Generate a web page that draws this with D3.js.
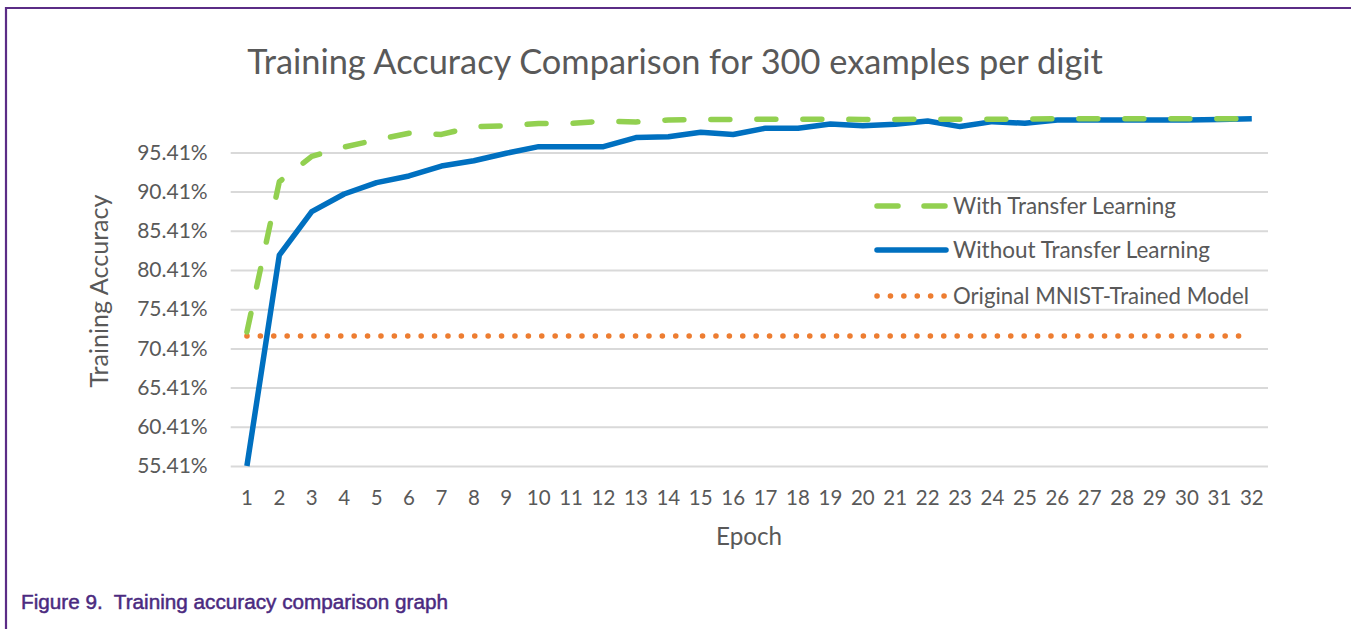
<!DOCTYPE html>
<html><head><meta charset="utf-8">
<script src="https://cdn.jsdelivr.net/npm/d3@7"></script>
<style>
html,body{margin:0;padding:0;background:#fff;}
svg{display:block;}
</style></head>
<body>
<svg id="chart" width="1351" height="629"></svg>
<script>
// ---- data ----
const epochs = d3.range(1, 33);
const withTransfer = [72.5, 91.67, 94.9, 96.1, 97.0, 97.85, 97.7, 98.7, 98.8, 99.1, 99.1, 99.4, 99.3, 99.55, 99.6, 99.6,
  99.65, 99.65, 99.65, 99.6, 99.6, 99.65, 99.65, 99.65, 99.65, 99.7, 99.7, 99.7, 99.7, 99.7, 99.7, 99.7];
const withoutTransfer = [55.41, 82.3, 87.85, 90.1, 91.55, 92.4, 93.67, 94.35, 95.3, 96.14, 96.14, 96.14, 97.3, 97.4, 97.97, 97.7,
  98.5, 98.5, 99.03, 98.8, 99.0, 99.42, 98.7, 99.33, 99.12, 99.55, 99.55, 99.55, 99.55, 99.55, 99.62, 99.7];
const originalModel = epochs.map(() => 72.0);
const yTicks = [55.41, 60.41, 65.41, 70.41, 75.41, 80.41, 85.41, 90.41, 95.41];
const yMin = 55.41, yMax = 100;
const seriesNames = ["With Transfer Learning", "Without Transfer Learning", "Original MNIST-Trained Model"];
const titleText = "Training Accuracy Comparison for 300 examples per digit";
const xTitle = "Epoch", yTitle = "Training Accuracy";
const caption = "Figure 9.  Training accuracy comparison graph";

// ---- layout ----
const svg = d3.select("#chart");
const L = 230.7, R = 1268, T = 116.4, B = 466;
const FONT = "Lato, 'Open Sans', sans-serif";
const GRAY = "#595959";
const COLORS = {green: "#92D050", blue: "#0070C0", orange: "#ED7D31"};

function fit(sel, target) {
  const n = sel.node();
  const size = parseFloat(sel.attr("font-size"));
  const len = n.getComputedTextLength();
  sel.attr("font-size", (size * target / len).toFixed(2));
}

// border
svg.append("path").attr("d", `M6,629 L6,8 L1351,8`).attr("fill", "none")
  .attr("stroke", "#5b2c86").attr("stroke-width", 2.2);

const x = d3.scaleBand().domain(epochs).range([L, R]);
const xc = e => x(e) + x.bandwidth() / 2;
const y = d3.scaleLinear().domain([yMin, yMax]).range([B, T]);

// y axis with gridlines
const yAxis = svg.append("g").attr("transform", `translate(${L},0)`)
  .call(d3.axisLeft(y).tickValues(yTicks).tickSize(-(R - L)).tickPadding(23)
    .tickFormat(d => d.toFixed(2) + "%"));
yAxis.select(".domain").remove();
yAxis.selectAll(".tick line").attr("stroke", "#d9d9d9").attr("stroke-width", 2);
yAxis.selectAll(".tick text").attr("fill", GRAY).attr("font-family", FONT).attr("font-size", 21);

// x axis
const xAxis = svg.append("g").attr("transform", `translate(0,${B})`)
  .call(d3.axisBottom(x).tickSize(0).tickPadding(24));
xAxis.select(".domain").remove();
xAxis.selectAll(".tick text").attr("fill", GRAY).attr("font-family", FONT).attr("font-size", 20.5);

// lines
const line = d3.line().x((d, i) => xc(epochs[i])).y(d => y(d));
svg.append("path").datum(originalModel).attr("d", line).attr("fill", "none")
  .attr("stroke", COLORS.orange).attr("stroke-width", 5.5).attr("stroke-linecap", "round")
  .attr("stroke-dasharray", "0.1,13.3");
svg.append("path").datum(withoutTransfer).attr("d", line).attr("fill", "none")
  .attr("stroke", COLORS.blue).attr("stroke-width", 5.5).attr("stroke-linejoin", "round");
svg.append("path").datum(withTransfer).attr("d", line).attr("fill", "none")
  .attr("stroke", COLORS.green).attr("stroke-width", 5.5).attr("stroke-linecap", "round")
  .attr("stroke-linejoin", "round").attr("stroke-dasharray", "19,27");

// legend
const legY = [206, 250, 296];
const legW = [223, 257, 296];
const legStyles = [
  {c: COLORS.green, dash: "21,26", cap: "round"},
  {c: COLORS.blue, dash: null, cap: "round"},
  {c: COLORS.orange, dash: "0.1,13.3", cap: "round"}
];
const lg = svg.append("g");
seriesNames.forEach((name, i) => {
  const s = legStyles[i];
  const p = lg.append("line").attr("x1", 877).attr("x2", 946).attr("y1", legY[i]).attr("y2", legY[i])
    .attr("stroke", s.c).attr("stroke-width", 5.5).attr("stroke-linecap", s.cap);
  if (s.dash) p.attr("stroke-dasharray", s.dash);
  const t = lg.append("text").attr("x", 953).attr("y", legY[i]).attr("dy", "0.35em")
    .attr("fill", GRAY).attr("font-family", FONT).attr("font-size", 20).text(name);
  fit(t, legW[i]);
});

// titles
const tt = svg.append("text").attr("x", 675).attr("y", 74).attr("text-anchor", "middle")
  .attr("fill", GRAY).attr("font-family", FONT).attr("font-size", 32).text(titleText);
fit(tt, 856);
const xt = svg.append("text").attr("x", 749).attr("y", 545).attr("text-anchor", "middle")
  .attr("fill", GRAY).attr("font-family", FONT).attr("font-size", 22).text(xTitle);
fit(xt, 66);
const yt = svg.append("text").attr("transform", "translate(108,291) rotate(-90)").attr("text-anchor", "middle")
  .attr("fill", GRAY).attr("font-family", FONT).attr("font-size", 22).text(yTitle);
fit(yt, 193);

// caption
const cp = svg.append("text").attr("x", 21).attr("y", 609)
  .attr("xml:space", "preserve").style("white-space", "pre")
  .attr("fill", "#4b2a80").attr("stroke", "#4b2a80").attr("stroke-width", 0.5)
  .attr("font-family", "'Liberation Sans', Arial, sans-serif").attr("font-size", 20).text(caption);
fit(cp, 427);
</script>
</body></html>
